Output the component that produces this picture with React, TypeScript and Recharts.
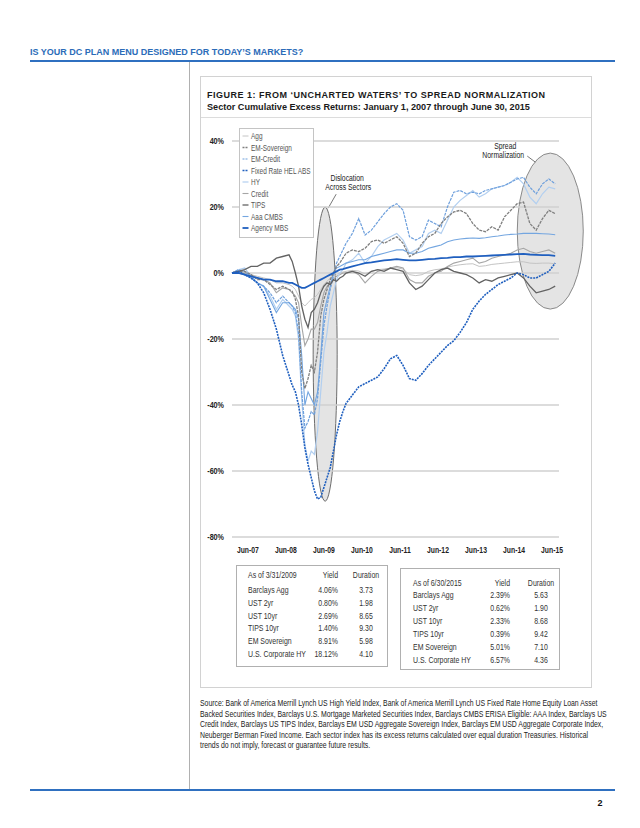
import React from 'react';
import { LineChart, Line, XAxis, YAxis, CartesianGrid, ReferenceDot, Legend } from 'recharts';

const SANS = "'Liberation Sans', Arial, sans-serif";

// month-end dates (Dec-06 = Jan 1, 2007 start)
const months = [
  '2006-12', '2007-02', '2007-04', '2007-06', '2007-08', '2007-10', '2007-12', '2008-02', '2008-04', '2008-06',
  '2008-07', '2008-08', '2008-09', '2008-10', '2008-11', '2008-12', '2009-01', '2009-02', '2009-03', '2009-04',
  '2009-05', '2009-06', '2009-07', '2009-08', '2009-09', '2009-10', '2009-11', '2009-12',
  '2010-02', '2010-04', '2010-06', '2010-08', '2010-10', '2010-12',
  '2011-02', '2011-04', '2011-06', '2011-08', '2011-10', '2011-12',
  '2012-02', '2012-04', '2012-06', '2012-08', '2012-10', '2012-12',
  '2013-02', '2013-04', '2013-06', '2013-08', '2013-10', '2013-12',
  '2014-02', '2014-04', '2014-06', '2014-08', '2014-10', '2014-12',
  '2015-02', '2015-04', '2015-06',
];

const agg = [0, 0, 0, -0.5, -1, -1.5, -2, -3, -3, -3.5,
  -4, -5, -7, -9, -10, -9, -8, -7.5, -6.5, -5,
  -3.5, -2.5, -1.5, -1, -0.5, 0, 0.3, 0.5,
  0.8, 0.6, -0.3, 0.5, 1, 1.2,
  1.4, 1.6, 1.2, -0.5, -0.8, -0.5,
  0.5, 1, 1.2, 1.8, 2.2, 2.5,
  2.7, 2.8, 2, 2.2, 2.6, 2.8,
  3, 3.2, 3.4, 3.4, 3, 2.9,
  3, 3, 2.8];
const emSovereign = [0, 0.5, 0.5, -0.5, -2, -2, -3.5, -5, -4, -5,
  -5.5, -8, -13, -30, -35, -32, -28, -30, -24, -13,
  -8, -5, -2, 0, 2, 3, 4.5, 6,
  7, 6.5, 7.5, 9.5, 10, 9,
  10, 11, 9, 5, 6, 9,
  11, 12, 15, 17, 18.5, 19,
  18, 15, 13, 12.5, 14, 13,
  17, 19, 21, 21.5, 15, 13,
  16.5, 19, 18];
const emCredit = [0, 1, 0.5, -1, -3, -4, -6, -9, -7, -9,
  -10, -12, -18, -36, -47, -45, -42, -43, -38, -27,
  -16, -10, -5, -1, 3, 5, 7, 9,
  12, 16.5, 11.5, 13, 15.5, 18,
  20, 21, 19, 11, 10, 11,
  16, 15, 14, 20, 24.5, 25,
  24, 24.5, 24, 25, 25.5, 26,
  26.5, 27.5, 28.5, 29, 26, 24,
  27, 28.5, 27];
const helAbs = [0, 0.5, -0.5, -1.5, -3, -6, -11, -17, -25, -31,
  -34, -36, -40, -46, -53, -58, -62, -66, -68.5, -68,
  -65, -62, -59, -54, -49, -45, -42, -39.5,
  -37, -34.5, -33.5, -32.5, -31.5, -29,
  -26, -25, -28, -32, -32.5, -30.5,
  -28, -26, -24, -22, -20.5, -18,
  -15, -11, -8.5, -6.5, -5, -3.5,
  -2.5, -1.5, 0, -0.5, -1.5, -1.5,
  -0.5, 0.5, 3];
const hy = [0, 1, 1.5, -1, -3, -4, -7, -11, -8, -10,
  -11, -13, -20, -38, -52, -57, -54, -55, -48, -36,
  -24, -18, -10, -6, -2, 0, 1, 3,
  4, 6, 3, 5, 8, 10,
  11, 12, 10, 6, 7, 8,
  12, 13, 12, 16, 20, 22,
  23.5, 25, 23, 24, 25.5, 26,
  26.5, 27.5, 29, 27, 23, 21,
  24, 26, 25.5];
const credit = [0, 0, 0, -0.5, -1.5, -2, -3, -6, -4.5, -5,
  -6, -7, -9, -16, -22, -20, -17, -17, -15, -10,
  -6, -4, -3, -2, -1, -0.5, 0, 0,
  0.5, -0.5, -3, -1, 0.5, 1,
  1.5, 2, 1.5, -2, -3, -3,
  -1, 0, 0.5, 2, 3, 3.5,
  4, 4.5, 3, 3.5, 4.5, 5,
  5.5, 6, 7, 7.5, 6.5, 6,
  6.5, 7, 6];
const tips = [0, 0.5, 1, 2, 2, 3, 3, 4.5, 5, 5.5,
  3.5, 0, -4, -10, -14, -16.5, -12, -11, -9, -6,
  -4, -3, -3.5, -2, -2.5, -1.5, -1, 0,
  0.5, 0, -1, 0.5, 1, 0.5,
  1.5, 1, 0.5, -3, -5, -4,
  -2, 0, 1, 1.5, 0.5, 0,
  -0.5, -1.5, -3, -2, -2.5, -1.5,
  -1, -0.5, 0, -1.5, -4, -6,
  -5.5, -5, -4];
const aaaCmbs = [0, 0, -0.5, -1.5, -3, -4, -8, -12, -9, -9,
  -10, -11, -14, -25, -40, -36, -38, -40, -36, -25,
  -12, -8, -4, 0, 1.5, 2, 2.5, 3,
  3.5, 4, 4, 5, 5.5, 6,
  6.5, 7, 7, 6, 6, 6.5,
  7.5, 8, 8.5, 9.5, 10, 10.3,
  10.5, 10.6, 10.5, 10.7, 11, 11.2,
  11.5, 11.7, 11.8, 12, 12, 12,
  11.9, 11.8, 11.6];
const agencyMbs = [0, 0, -0.5, -1, -1.5, -2, -2, -2.5, -2.5, -3,
  -3, -3.5, -4, -4.5, -4.5, -4, -3.5, -3, -2.5, -2,
  -1.5, -1, -0.5, 0, 0.5, 1, 1.2, 1.5,
  2, 2.5, 3, 3.2, 3.5, 3.8,
  4, 4.2, 4, 3.8, 3.8, 4,
  4.2, 4.3, 4.5, 4.6, 4.8, 4.8,
  5, 5, 5.1, 5.2, 5.3, 5.4,
  5.5, 5.6, 5.7, 5.8, 5.6, 5.5,
  5.4, 5.4, 5.2];

const tickLabels = ['Jun-07', 'Jun-08', 'Jun-09', 'Jun-10', 'Jun-11', 'Jun-12', 'Jun-13', 'Jun-14', 'Jun-15'];
const yTicks = [-80, -60, -40, -20, 0, 20, 40];

const table2009 = [
  ['Barclays Agg', '4.06%', '3.73'],
  ['UST 2yr', '0.80%', '1.98'],
  ['UST 10yr', '2.69%', '8.65'],
  ['TIPS 10yr', '1.40%', '9.30'],
  ['EM Sovereign', '8.91%', '5.98'],
  ['U.S. Corporate HY', '18.12%', '4.10'],
];
const table2015 = [
  ['Barclays Agg', '2.39%', '5.63'],
  ['UST 2yr', '0.62%', '1.90'],
  ['UST 10yr', '2.33%', '8.68'],
  ['TIPS 10yr', '0.39%', '9.42'],
  ['EM Sovereign', '5.01%', '7.10'],
  ['U.S. Corporate HY', '6.57%', '4.36'],
];

const sourceLines = [
  'Source: Bank of America Merrill Lynch US High Yield Index, Bank of America Merrill Lynch US Fixed Rate Home Equity Loan Asset',
  'Backed Securities Index, Barclays U.S. Mortgage Marketed Securities Index, Barclays CMBS ERISA Eligible: AAA Index, Barclays US',
  'Credit Index, Barclays US TIPS Index, Barclays EM USD Aggregate Sovereign Index, Barclays EM USD Aggregate Corporate Index,',
  'Neuberger Berman Fixed Income. Each sector index has its excess returns calculated over equal duration Treasuries. Historical',
  'trends do not imply, forecast or guarantee future results.',
];

const toYear = (m: string) => {
  const [y, mo] = m.split('-').map(Number);
  return y + mo / 12;
};

const data = months.map((m, i) => ({
  t: toYear(m),
  agg: agg[i],
  emSovereign: emSovereign[i],
  emCredit: emCredit[i],
  helAbs: helAbs[i],
  hy: hy[i],
  credit: credit[i],
  tips: tips[i],
  aaaCmbs: aaaCmbs[i],
  agencyMbs: agencyMbs[i],
}));

// tick sits at the start of June each year
const xTicks = tickLabels.map((_, i) => 2007 + i + 5 / 12);

const series = [
  { key: 'agg', name: 'Agg', color: '#c4c4c4', width: 1, dash: undefined },
  { key: 'emSovereign', name: 'EM-Sovereign', color: '#7f7f7f', width: 1.3, dash: '3 1' },
  { key: 'emCredit', name: 'EM-Credit', color: '#6d9fdc', width: 1.2, dash: '3 1' },
  { key: 'helAbs', name: 'Fixed Rate HEL ABS', color: '#1f5fbf', width: 1.6, dash: '2 1' },
  { key: 'hy', name: 'HY', color: '#b2cff0', width: 1.2, dash: undefined },
  { key: 'credit', name: 'Credit', color: '#a6a6a6', width: 1.1, dash: undefined },
  { key: 'tips', name: 'TIPS', color: '#636363', width: 1.3, dash: undefined },
  { key: 'aaaCmbs', name: 'Aaa CMBS', color: '#74a6e0', width: 1.1, dash: undefined },
  { key: 'agencyMbs', name: 'Agency MBS', color: '#1f5fbf', width: 1.8, dash: undefined },
];
const drawOrder = ['agg', 'credit', 'hy', 'aaaCmbs', 'emCredit', 'emSovereign', 'tips', 'helAbs', 'agencyMbs'];

// condensed text: Liberation Sans squeezed horizontally
const CT = ({ x, y, k = 0.78, anchor = 'start', size = 8.5, weight = 'normal', fill = '#333', children }: any) => (
  <text transform={`translate(${x},${y}) scale(${k},1)`} textAnchor={anchor} fontSize={size} fontWeight={weight} fill={fill} fontFamily={SANS}>
    {children}
  </text>
);

const LegendBox = () => (
  <svg width={75} height={110} style={{ display: 'block' }}>
    <rect x={0.5} y={0.5} width={74} height={109} fill="#fff" stroke="#c4c4c4" />
    {series.map((s, i) => (
      <g key={s.key}>
        <line x1={3.5} x2={9.5} y1={8 + i * 11.5} y2={8 + i * 11.5} stroke={s.color} strokeWidth={s.width} strokeDasharray={s.dash ? '2 1' : undefined} />
        <CT x={12} y={11 + i * 11.5} k={0.76} fill="#555">{s.name}</CT>
      </g>
    ))}
  </svg>
);

const Dislocation = (p: any) => (
  <g>
    <ellipse cx={p.cx} cy={p.cy} rx={12} ry={147} fill="#e4e4e4" stroke="#6e6e6e" strokeWidth={1} />
    <line x1={p.cx + 3} y1={p.cy - 146} x2={p.cx + 11} y2={p.cy - 160} stroke="#555" strokeWidth={0.8} />
    <CT x={p.cx + 22} y={p.cy - 173} k={0.76} size={9} anchor="middle" fill="#222">Dislocation</CT>
    <CT x={p.cx + 23} y={p.cy - 164} k={0.76} size={9} anchor="middle" fill="#222">Across Sectors</CT>
  </g>
);

const Normalization = (p: any) => (
  <g>
    <ellipse cx={p.cx} cy={p.cy} rx={33} ry={78} fill="#e4e4e4" stroke="#8a8a8a" strokeWidth={1} />
    <line x1={p.cx - 23} y1={p.cy - 75} x2={p.cx - 15} y2={p.cy - 69} stroke="#555" strokeWidth={0.8} />
    <CT x={p.cx - 45} y={p.cy - 82} k={0.76} size={9} anchor="middle" fill="#222">Spread</CT>
    <CT x={p.cx - 47} y={p.cy - 73} k={0.76} size={9} anchor="middle" fill="#222">Normalization</CT>
  </g>
);

const YTick = ({ x, y, payload }: any) => (
  <CT x={x} y={y + 3} k={0.8} size={9} weight="bold" anchor="end" fill="#222">{`${payload.value}%`}</CT>
);
const XTick = ({ x, y, payload }: any) => (
  <CT x={x} y={y + 8} k={0.8} size={8.5} weight="bold" anchor="middle" fill="#222">
    {tickLabels[Math.round(payload.value - 5 / 12) - 2007]}
  </CT>
);

const Table = ({ title, rows, box, c }: any) => (
  <g>
    <rect x={box[0]} y={box[1]} width={box[2]} height={box[3]} fill="none" stroke="#b0b0b0" />
    {[[title, 'Yield', 'Duration'], ...rows].map((r: string[], i: number) => {
      const y = i === 0 ? c.head : c.first + (i - 1) * c.step;
      return (
        <g key={i}>
          <CT x={c.label} y={y} k={0.8} size={8.7}>{r[0]}</CT>
          <CT x={c.yieldR} y={y} k={0.8} size={8.7} anchor="end">{r[1]}</CT>
          <CT x={c.durC} y={y} k={0.8} size={8.7} anchor="middle">{r[2]}</CT>
        </g>
      );
    })}
  </g>
);

const chartSize = { width: 400, height: 442 };

export default function App() {
  return (
    <div style={{ position: 'absolute', left: 0, top: 0, width: 640, height: 828, background: '#fff', overflow: 'hidden' }}>
      <svg width={640} height={828} style={{ position: 'absolute', left: 0, top: 0 }}>
        <CT x={30} y={55} k={1} size={9} weight="bold" fill="#2b6cb8">IS YOUR DC PLAN MENU DESIGNED FOR TODAY’S MARKETS?</CT>
        <rect x={30} y={60} width={585} height={2} fill="#2f70c0" />
        <rect x={189} y={62} width={1} height={727} fill="#b0b0b0" />
        <rect x={200.5} y={76.5} width={391} height={611} fill="none" stroke="#d2d2d2" />
        <CT x={207} y={98} k={1} size={9} weight="bold" fill="#1a1a1a">
          <tspan letterSpacing={0.5}>FIGURE 1: FROM ‘UNCHARTED WATERS’ TO SPREAD NORMALIZATION</tspan>
        </CT>
        <CT x={207} y={110} k={0.96} size={9.5} weight="bold" fill="#1a1a1a">
          Sector Cumulative Excess Returns: January 1, 2007 through June 30, 2015
        </CT>
        <rect x={201} y={117} width={390} height={1} fill="#dcdcdc" />

        <Table title="As of 3/31/2009" rows={table2009} box={[236.5, 565.5, 151, 101]}
          c={{ head: 578, first: 593, step: 12.8, label: 248, yieldR: 338, durC: 366 }} />
        <Table title="As of 6/30/2015" rows={table2015} box={[400.5, 568.5, 159, 101]}
          c={{ head: 586, first: 597.5, step: 13.1, label: 413, yieldR: 510, durC: 541 }} />

        {sourceLines.map((l, i) => (
          <CT key={i} x={200} y={706 + i * 10.5} k={0.81} size={8.5} fill="#222">{l}</CT>
        ))}

        <rect x={30} y={789} width={585} height={2} fill="#2f70c0" />
        <text x={600} y={806} textAnchor="middle" fontFamily={SANS} fontWeight="bold" fontSize={9} fill="#111">2</text>
      </svg>

      {/* annotation ellipses sit behind the series */}
      <div style={{ position: 'absolute', left: 190, top: 120 }}>
        <LineChart {...chartSize} data={data} margin={{ top: 21, right: 31, left: 42, bottom: 25 }}>
          <XAxis dataKey="t" type="number" domain={[2007, 2015.6]} hide />
          <YAxis domain={[-80, 40]} hide />
          <Line dataKey="agg" stroke="none" dot={false} legendType="none" isAnimationActive={false} />
          <ReferenceDot x={2009.45} y={-24.6} ifOverflow="visible" shape={Dislocation} />
          <ReferenceDot x={2015.37} y={12.7} ifOverflow="visible" shape={Normalization} />
        </LineChart>
      </div>

      <div style={{ position: 'absolute', left: 190, top: 120 }}>
        <LineChart {...chartSize} data={data} margin={{ top: 21, right: 31, left: 12, bottom: 5 }}>
          <CartesianGrid vertical={false} stroke="#d0d0d0" strokeWidth={1.5} />
          <XAxis
            dataKey="t"
            type="number"
            domain={[2007, 2015.6]}
            ticks={xTicks}
            interval={0}
            axisLine={false}
            tickLine={false}
            height={20}
            tick={<XTick />}
          />
          <YAxis
            domain={[-80, 40]}
            ticks={yTicks}
            interval={0}
            axisLine={false}
            tickLine={false}
            width={30}
            tick={<YTick />}
          />
          <Legend
            layout="horizontal"
            verticalAlign="middle"
            align="center"
            content={() => <LegendBox />}
            wrapperStyle={{ left: 49, top: 8, width: 75, height: 110 }}
          />
          {drawOrder.map((k) => {
            const s = series.find((x) => x.key === k)!;
            return (
              <Line
                key={k}
                type="linear"
                dataKey={k}
                name={s.name}
                stroke={s.color}
                strokeWidth={s.width}
                strokeDasharray={s.dash}
                dot={false}
                isAnimationActive={false}
              />
            );
          })}
        </LineChart>
      </div>
    </div>
  );
}
